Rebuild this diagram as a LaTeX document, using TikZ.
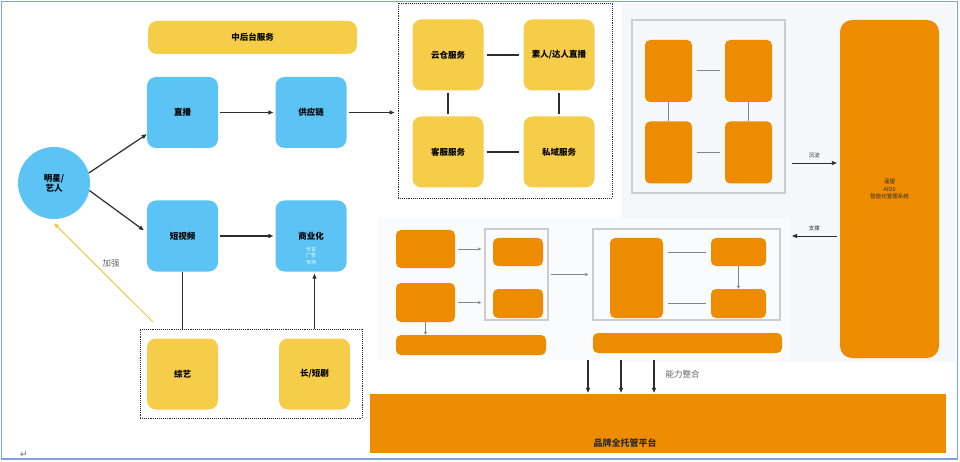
\documentclass[tikz,border=0pt]{standalone}
\usepackage{fontspec}
\setmainfont{Noto Sans CJK SC}
\newfontfamily\symfont{DejaVu Sans}
\usetikzlibrary{arrows.meta, positioning, backgrounds}
\definecolor{lBlue}   {RGB}{91,196,245}
\definecolor{lYellow} {RGB}{245,205,72}
\definecolor{dOrange} {RGB}{238,140,0}
\definecolor{pnlGray} {RGB}{245,247,250}
\definecolor{frGray}  {RGB}{205,205,205}
\definecolor{brdBlue} {RGB}{125,160,225}
\definecolor{dkGray}  {RGB}{45,45,45}
\definecolor{txGray}  {RGB}{100,100,100}

\begin{document}
\begin{tikzpicture}[x=1pt, y=-1pt, font=\fontsize{8.5}{10}\selectfont,
  BLU/.style={fill=lBlue, rounded corners=9pt, minimum width=71pt, minimum height=71pt, font=\fontsize{8.5}{10}\selectfont\bfseries},
  YLW/.style={fill=lYellow, rounded corners=9pt, minimum width=71pt, minimum height=71pt, font=\fontsize{8.5}{10}\selectfont\bfseries},
  ORG/.style={fill=dOrange, rounded corners=5pt, inner sep=0pt},
  FRM/.style={draw=frGray, line width=1.5pt, inner sep=0pt},
  DOTBOX/.style={draw=dkGray, densely dotted, line width=0.9pt, inner sep=0pt},
  ARR/.style={-{Triangle[length=5pt,width=4pt]}, line width=1.2pt, dkGray},
  LNK/.style={line width=1.6pt, dkGray},
  BLK/.style={line width=1pt, frGray!65!black}]
    \useasboundingbox (0,0) rectangle (960,462);
    % background panels
    \fill[pnlGray] (622,4) rectangle (955,362);
    \fill[pnlGray!45!white] (378,218) rectangle (790,360);
    \draw[brdBlue, line width=1.5pt] (1.5,1.5) rectangle (957.5,459);
    \node[text=txGray, font=\symfont\fontsize{9}{9}\selectfont] (ret) at (24,455) {↵};

    % left part
    \node[YLW, minimum width=209pt, minimum height=33pt] (midsvc) at (252.5,37.5) {中后台服务};
    \node[circle, fill=lBlue, minimum size=72pt, inner sep=0pt, align=center, font=\fontsize{8.5}{10}\selectfont\bfseries] (star) at (54,183) {明星/\\艺人};
    \node[BLU] (live) at (182.5,112.5) {直播};
    \node[BLU] (supply) at (311,112.5) {供应链};
    \node[BLU] (short) at (182.5,236) {短视频};
    \node[BLU] (biz) at (311,236) {};
    \node[font=\fontsize{8.5}{10}\selectfont\bfseries] (bizt) at (311,236) {商业化};
    \node[text=white, font=\fontsize{5}{6.5}\selectfont, align=center, below=0pt of bizt] (bizsub) {代言\\广告\\专场};
    \node[YLW] (show) at (182.5,374) {综艺};
    \node[YLW] (drama) at (314.5,374) {长/短剧};
    \node[DOTBOX, minimum width=222pt, minimum height=89pt] (contbox) at (251,373.5) {};
    \node[text=txGray] (boost) at (111,263) {加强};

    \draw[ARR] (star.16) -- ([yshift=14pt]live.south west);
    \draw[ARR] (star.-12) -- ([yshift=-30pt,xshift=-3pt]short.north west);
    \draw[ARR] ([xshift=2pt]live.east) -- ([xshift=-2pt]supply.west);
    \draw[ARR] ([xshift=2pt]short.east) -- ([xshift=-2pt]biz.west);
    \draw[LNK] (short.south) -- (short.south |- contbox.north);
    \draw[ARR] (drama.north |- contbox.north) -- ([yshift=-2pt]drama.north |- biz.south);
    \coordinate (bst) at (153,322);
    \draw[-{Triangle[length=5pt,width=4pt]}, lYellow!90!orange, line width=1pt] (bst) -- ([yshift=-4pt]star.south);

    % service box
    \node[DOTBOX, minimum width=214pt, minimum height=195pt] (svcbox) at (505,100.5) {};
    \node[YLW] (cloud) at (448,55) {云仓服务};
    \node[YLW] (kol) at (559,55) {素人/达人直播};
    \node[YLW] (cs) at (448,152) {客服服务};
    \node[YLW] (priv) at (559,152) {私域服务};
    \draw[LNK] ([xshift=3pt]cloud.east) -- ([xshift=-4pt]kol.west);
    \draw[LNK] ([xshift=3pt]cs.east) -- ([xshift=-4pt]priv.west);
    \draw[LNK] ([yshift=-2pt]cloud.south) -- ([yshift=2pt]cs.north);
    \draw[LNK] ([yshift=-2pt]kol.south) -- ([yshift=2pt]priv.north);
    \draw[ARR] ([xshift=2pt]supply.east) -- ([xshift=-3pt]supply.east -| svcbox.west);

    % top right panel
    \node[FRM, minimum width=153pt, minimum height=173pt] (topfrm) at (708.5,106.5) {};
    \node[ORG, minimum width=47pt, minimum height=62pt] (tb1) at (668.5,71) {};
    \node[ORG, minimum width=47pt, minimum height=62pt] (tb2) at (748.5,71) {};
    \node[ORG, minimum width=47pt, minimum height=62pt] (tb3) at (668.5,152.5) {};
    \node[ORG, minimum width=47pt, minimum height=62pt] (tb4) at (748.5,152.5) {};
    \draw[BLK] ([xshift=5pt]tb1.east) -- ([xshift=-5pt]tb2.west);
    \draw[BLK] ([xshift=5pt]tb3.east) -- ([xshift=-5pt]tb4.west);
    \draw[BLK] (tb1.south) -- (tb3.north);
    \draw[BLK] (tb2.south) -- (tb4.north);

    \node[fill=dOrange, rounded corners=12pt, minimum width=99pt, minimum height=338pt, align=center,
          text=dkGray, font=\fontsize{5.5}{7.5}\selectfont] (aios) at (889.5,189) {遥望\\AIOS\\智能化管理系统};
    \coordinate (cd) at (792,163);
    \coordinate (zc) at (792,236);
    \draw[ARR, line width=0.9pt] (cd) -- ([xshift=-3pt]cd -| aios.west) node[midway, above=1pt, text=dkGray, font=\fontsize{5.5}{6}\selectfont] (cdt) {沉淀};
    \draw[ARR, line width=0.9pt] ([xshift=-3pt]zc -| aios.west) -- (zc) node[midway, above=1pt, text=dkGray, font=\fontsize{5.5}{6}\selectfont] (zct) {支撑};

    % lower panel
    \node[ORG, minimum width=59pt, minimum height=38pt] (lb1) at (425.5,249) {};
    \node[ORG, minimum width=59pt, minimum height=39pt] (lb2) at (425.5,302.5) {};
    \node[ORG, minimum width=150pt, minimum height=20pt] (lb3) at (471,345) {};
    \node[FRM, minimum width=63pt, minimum height=91pt] (mfrm) at (516.5,274.5) {};
    \node[ORG, minimum width=50pt, minimum height=28pt] (mb1) at (518,252) {};
    \node[ORG, minimum width=50pt, minimum height=29pt] (mb2) at (518,303.5) {};
    \node[FRM, minimum width=187pt, minimum height=91pt] (rfrm) at (686.5,274.5) {};
    \node[ORG, minimum width=53pt, minimum height=80pt] (rb1) at (636.5,278) {};
    \node[ORG, minimum width=55pt, minimum height=28pt] (rb2) at (738.5,252) {};
    \node[ORG, minimum width=55pt, minimum height=29pt] (rb3) at (738.5,303.5) {};
    \node[ORG, minimum width=189pt, minimum height=20pt] (rb4) at (687.5,343) {};
    \draw[BLK, -{Triangle[length=3pt,width=3pt]}] ([xshift=3pt]lb1.east) -- ([xshift=-3pt]lb1.east -| mfrm.west);
    \draw[BLK, -{Triangle[length=3pt,width=3pt]}] ([xshift=3pt]lb2.east) -- ([xshift=-3pt]lb2.east -| mfrm.west);
    \draw[BLK, -{Triangle[length=3pt,width=3pt]}] (lb2.south) -- (lb2.south |- lb3.north);
    \draw[BLK, -{Triangle[length=3pt,width=3pt]}] ([xshift=2pt]mfrm.east) -- ([xshift=-4pt]rfrm.west);
    \draw[BLK] ([xshift=5pt]rb2.west -| rb1.east) -- ([xshift=-5pt]rb2.west);
    \draw[BLK] ([xshift=5pt]rb3.west -| rb1.east) -- ([xshift=-5pt]rb3.west);
    \draw[BLK, -{Triangle[length=3pt,width=3pt]}] (rb2.south) -- (rb3.north);

    % platform
    \node[fill=dOrange, minimum width=576pt, minimum height=59pt, inner sep=0pt] (plat) at (658,423.5) {};
    \node[font=\fontsize{9}{10}\selectfont\bfseries, text=dkGray] (platt) at (625,443) {品牌全托管平台};
    \foreach \xx in {588,621,654} {
      \coordinate (cap\xx) at (\xx,360);
      \draw[ARR] (cap\xx) -- ([yshift=1pt]cap\xx |- plat.north);
    }
    \node[text=txGray, anchor=west] (merge) at (662,374) {能力整合};
\end{tikzpicture}
\end{document}
